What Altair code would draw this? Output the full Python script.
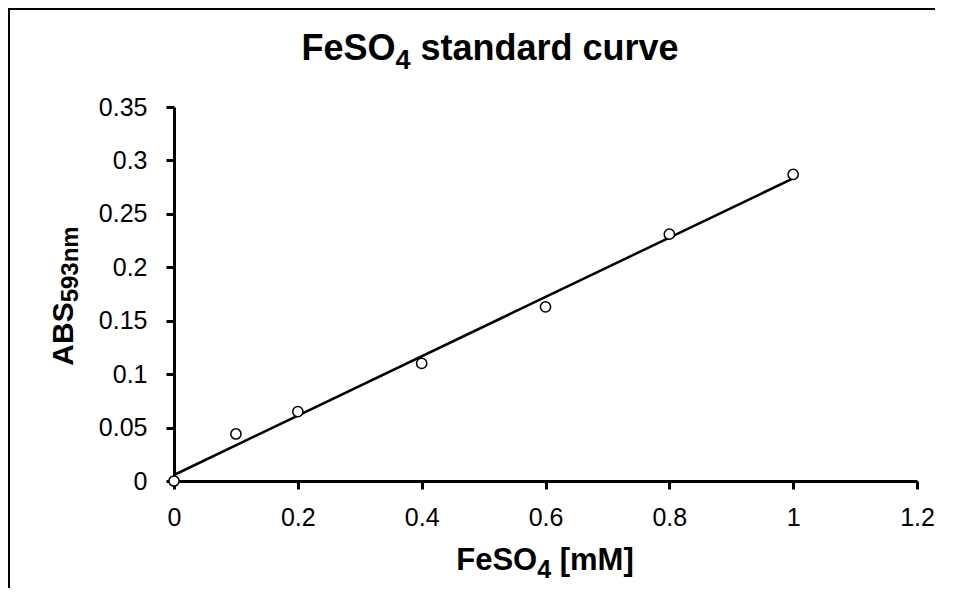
import altair as alt
import pandas as pd

# ---- data ----
conc_mM = [0.0, 0.1, 0.2, 0.4, 0.6, 0.8, 1.0]
abs_593 = [0.0, 0.044, 0.065, 0.110, 0.163, 0.231, 0.287]
x_ticks = [0, 0.2, 0.4, 0.6, 0.8, 1.0, 1.2]
y_ticks = [0, 0.05, 0.1, 0.15, 0.2, 0.25, 0.3, 0.35]

title_parts = ["FeSO", "4", " standard curve"]
xtitle_parts = ["FeSO", "4", " [mM]"]
ytitle_parts = ["ABS", "593nm"]

FONT = "Liberation Sans"
W, H = 743, 374
PAD = {"left": 166, "top": 99, "right": 21, "bottom": 110}

# Arial / Liberation Sans Bold advance widths (em)
BOLD = {'F': .611, 'e': .556, 'S': .667, 'O': .778, ' ': .278, 's': .556, 't': .333,
        'a': .556, 'n': .611, 'd': .611, 'r': .389, 'c': .556, 'u': .611, 'v': .556,
        '4': .556, '[': .333, 'm': .889, 'M': .833, ']': .333, 'A': .722, 'B': .722,
        '5': .556, '9': .556, '3': .556}


def text_width(s, size):
    return sum(BOLD.get(ch, .6) for ch in s) * size


def layout(parts, sizes, center):
    """Return (start offset of visible text, stripped text) for each piece."""
    widths = [text_width(p, s) for p, s in zip(parts, sizes)]
    start = center - sum(widths) / 2
    out = []
    for p, s, w in zip(parts, sizes, widths):
        lead = len(p) - len(p.lstrip(" "))
        out.append((start + text_width(" " * lead, s), p.strip()))
        start += w
    return out


df = pd.DataFrame({"conc": conc_mM, "abs": abs_593})
one = pd.DataFrame({"k": [0]})

xs = alt.Scale(domain=[0, 1.2], nice=False, zero=False)
ys = alt.Scale(domain=[0, 0.35], nice=False, zero=False)

base = alt.Chart(df)

trend = base.transform_regression("conc", "abs", method="linear").mark_line(
    color="black", strokeWidth=2.5
).encode(
    x=alt.X("conc:Q", scale=xs,
            axis=alt.Axis(values=x_ticks, format="~g", title=None, grid=False,
                          tickSize=8, labelPadding=16)),
    y=alt.Y("abs:Q", scale=ys,
            axis=alt.Axis(values=y_ticks, format="~g", title=None, grid=False,
                          tickSize=8, labelPadding=19)),
)

points = base.mark_point(
    shape="circle", filled=False, fill="white", fillOpacity=1,
    stroke="black", strokeWidth=1.5, size=105, opacity=1
).encode(x=alt.X("conc:Q", scale=xs), y=alt.Y("abs:Q", scale=ys))

layers = [trend, points]


def txt(s, x, y, size, angle=0, align="left"):
    kw = dict(text=s, font=FONT, fontWeight="bold", fontSize=size, color="black",
              align=align, baseline="alphabetic")
    if angle:
        kw["angle"] = angle
    return alt.Chart(one).mark_text(**kw).encode(x=alt.value(x), y=alt.value(y))


# chart title (centred at page x ~490)
tsizes = [36, 27, 36]
tdy = [-47, -38, -47]
for (x, p), s, y in zip(layout(title_parts, tsizes, 490 - 174), tsizes, tdy):
    layers.append(txt(p, x, y, s))

# x-axis title
xsizes = [31, 25, 31]
xdy = [463, 471, 463]
for (x, p), s, y in zip(layout(xtitle_parts, xsizes, 545 - 174), xsizes, xdy):
    layers.append(txt(p, x, y, s))

# y-axis title (rotated, reads bottom to top)
ysizes = [30, 24]
ycenter = 296 - 107
ydx = [-101, -96]
for (off, p), s, dx in zip(layout(ytitle_parts, ysizes, 0), ysizes, ydx):
    layers.append(txt(p, dx, ycenter - off, s, angle=270))

# outer frame: only its top and left edges fall inside the reference picture
frame_top = alt.Chart(one).mark_rect(color="black").encode(
    x=alt.value(-PAD["left"]), x2=alt.value(W + PAD["right"] - 3),
    y=alt.value(-PAD["top"]), y2=alt.value(-PAD["top"] + 2))
frame_left = alt.Chart(one).mark_rect(color="black").encode(
    x=alt.value(-PAD["left"]), x2=alt.value(-PAD["left"] + 2),
    y=alt.value(-PAD["top"]), y2=alt.value(H + PAD["bottom"] - 3))
layers += [frame_top, frame_left]

chart = alt.layer(*layers).properties(
    width=W, height=H,
    autosize=alt.AutoSizeParams(type="none"),
    padding=PAD,
    background="white",
).configure_view(stroke=None).configure_axis(
    domainColor="black", domainWidth=3, tickColor="black", tickWidth=3,
    labelFont=FONT, labelFontSize=25, labelColor="black", labelFlush=False,
    labelOverlap=False,
)

chart.save("out.html", embed_options={"renderer": "svg", "actions": False})
